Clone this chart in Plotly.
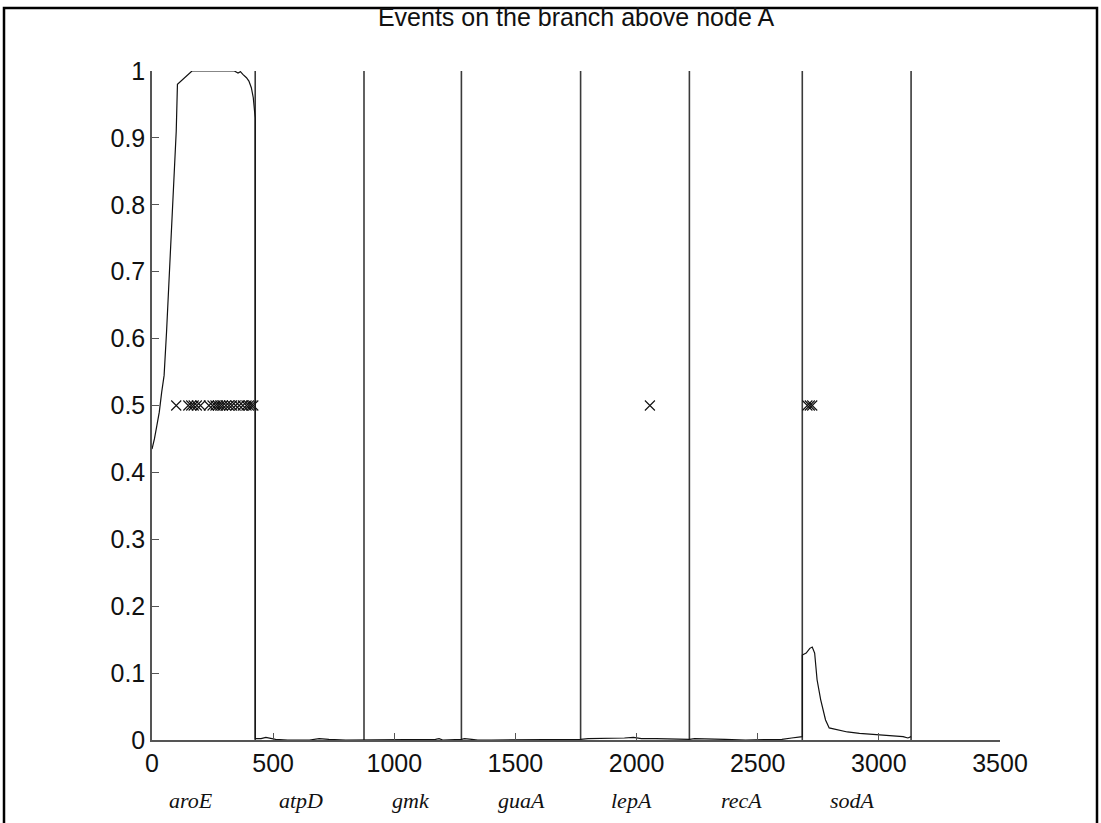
import plotly.graph_objects as go

# ---------------- data ----------------
genes = ["aroE", "atpD", "gmk", "guaA", "lepA", "recA", "sodA"]
gene_boundaries = [426, 875, 1277, 1769, 2218, 2684, 3133]

curve_x = [0, 10, 20, 30, 40, 50, 60, 70, 80, 90, 100, 105, 120, 135, 150, 165,
           200, 250, 300, 340, 355, 365, 375, 390, 400, 410, 418, 426,
           426, 450, 470, 490, 510, 560, 650, 690, 710, 730, 800, 875,
           900, 1000, 1100, 1170, 1185, 1200, 1277, 1290, 1320, 1345, 1400, 1600, 1769,
           1800, 1900, 1950, 1987, 2020, 2080, 2150, 2218,
           2240, 2300, 2365, 2450, 2600, 2640, 2670, 2684,
           2684, 2700, 2715, 2725, 2735, 2745, 2760, 2780, 2795, 2830, 2870,
           2920, 2980, 3050, 3100, 3120, 3133]
curve_y = [0.435, 0.45, 0.47, 0.49, 0.52, 0.545, 0.61, 0.68, 0.75, 0.83, 0.91, 0.98, 0.985, 0.99, 0.995, 1.0,
           1.0, 1.0, 1.0, 1.0, 0.997, 0.999, 0.995, 0.99, 0.985, 0.975, 0.96, 0.93,
           0.002, 0.002, 0.004, 0.002, 0.001, 0.0, 0.0, 0.002, 0.002, 0.001, 0.0, 0.0,
           0.0, 0.0, 0.0, 0.001, 0.002, 0.0, 0.001, 0.002, 0.001, 0.0, 0.0, 0.0, 0.001,
           0.002, 0.002, 0.003, 0.004, 0.002, 0.002, 0.001, 0.001,
           0.002, 0.002, 0.001, 0.0, 0.001, 0.003, 0.004, 0.005,
           0.127, 0.13, 0.137, 0.139, 0.13, 0.09, 0.06, 0.03, 0.018, 0.015, 0.012,
           0.01, 0.008, 0.006, 0.005, 0.003, 0.005]

event_x = [100, 150, 162, 172, 185, 200, 235, 250, 262, 272, 282, 292, 305, 318,
           330, 345, 360, 375, 390, 400, 410, 418, 2055, 2705, 2715, 2725]
event_y = [0.5] * len(event_x)

x_ticks = [0, 500, 1000, 1500, 2000, 2500, 3000, 3500]
y_ticks = [0, 0.1, 0.2, 0.3, 0.4, 0.5, 0.6, 0.7, 0.8, 0.9, 1.0]
y_ticklabels = ["0", "0.1", "0.2", "0.3", "0.4", "0.5", "0.6", "0.7", "0.8", "0.9", "1"]
title_text = "Events on the branch above node A"

# ---------------- figure ----------------
W, H = 1101, 823
L, R, T, B = 152, 101, 71, 83
AXIS_COLOR = "#555555"
TICK_FONT = dict(family="Liberation Sans, Arial, sans-serif", size=25, color="#111111")

vx, vy = [], []
for b in gene_boundaries:
    vx += [b, b, None]
    vy += [0, 1, None]

fig = go.Figure()
fig.add_trace(go.Scatter(x=vx, y=vy, mode="lines",
                         line=dict(color="#3a3a3a", width=1.6),
                         hoverinfo="skip", showlegend=False))
fig.add_trace(go.Scatter(x=curve_x, y=curve_y, mode="lines",
                         line=dict(color="#111111", width=1.2),
                         showlegend=False))
fig.add_trace(go.Scatter(x=event_x, y=event_y, mode="markers",
                         marker=dict(symbol="x-thin", size=10,
                                     line=dict(color="#111111", width=1.1)),
                         showlegend=False))

# gene name labels beneath axis, evenly spaced
label_start, label_step = 160, 455
for i, g in enumerate(genes):
    fig.add_annotation(x=label_start + i * label_step, y=-0.09, xref="x", yref="paper",
                       text="<i>" + g + "</i>", showarrow=False, yanchor="middle",
                       font=dict(family="Liberation Serif, Times New Roman, serif",
                                 size=22, color="#111111"))

# outer frame (page border)
pw, ph = W - L - R, H - T - B
def px(xp):
    return (xp - L) / pw
def py(yp):
    return (H - B - yp) / ph
fig.add_shape(type="path", xref="paper", yref="paper",
              path=f"M {px(4)} {py(823)} L {px(4)} {py(8)} L {px(1097)} {py(8)} L {px(1097)} {py(823)}",
              line=dict(color="black", width=2.5))

fig.update_layout(
    width=W, height=H,
    margin=dict(l=L, r=R, t=T, b=B, pad=0),
    paper_bgcolor="white", plot_bgcolor="white",
    title=dict(text=title_text, x=(L + pw / 2) / W, xanchor="center",
               y=1 - 17 / H, yanchor="middle",
               font=dict(family="Liberation Sans, Arial, sans-serif", size=25, color="#111111")),
    xaxis=dict(range=[0, 3500], tickvals=x_ticks, ticks="inside", ticklen=7,
               tickcolor=AXIS_COLOR, showline=True, linecolor=AXIS_COLOR, linewidth=1.5,
               showgrid=False, zeroline=False, tickfont=TICK_FONT, mirror=False),
    yaxis=dict(range=[0, 1], tickvals=y_ticks, ticktext=y_ticklabels, ticks="inside",
               ticklen=7, tickcolor=AXIS_COLOR, showline=True, linecolor=AXIS_COLOR,
               linewidth=1.5, showgrid=False, zeroline=False, tickfont=TICK_FONT,
               mirror=False),
)

fig.write_html("out.html")
